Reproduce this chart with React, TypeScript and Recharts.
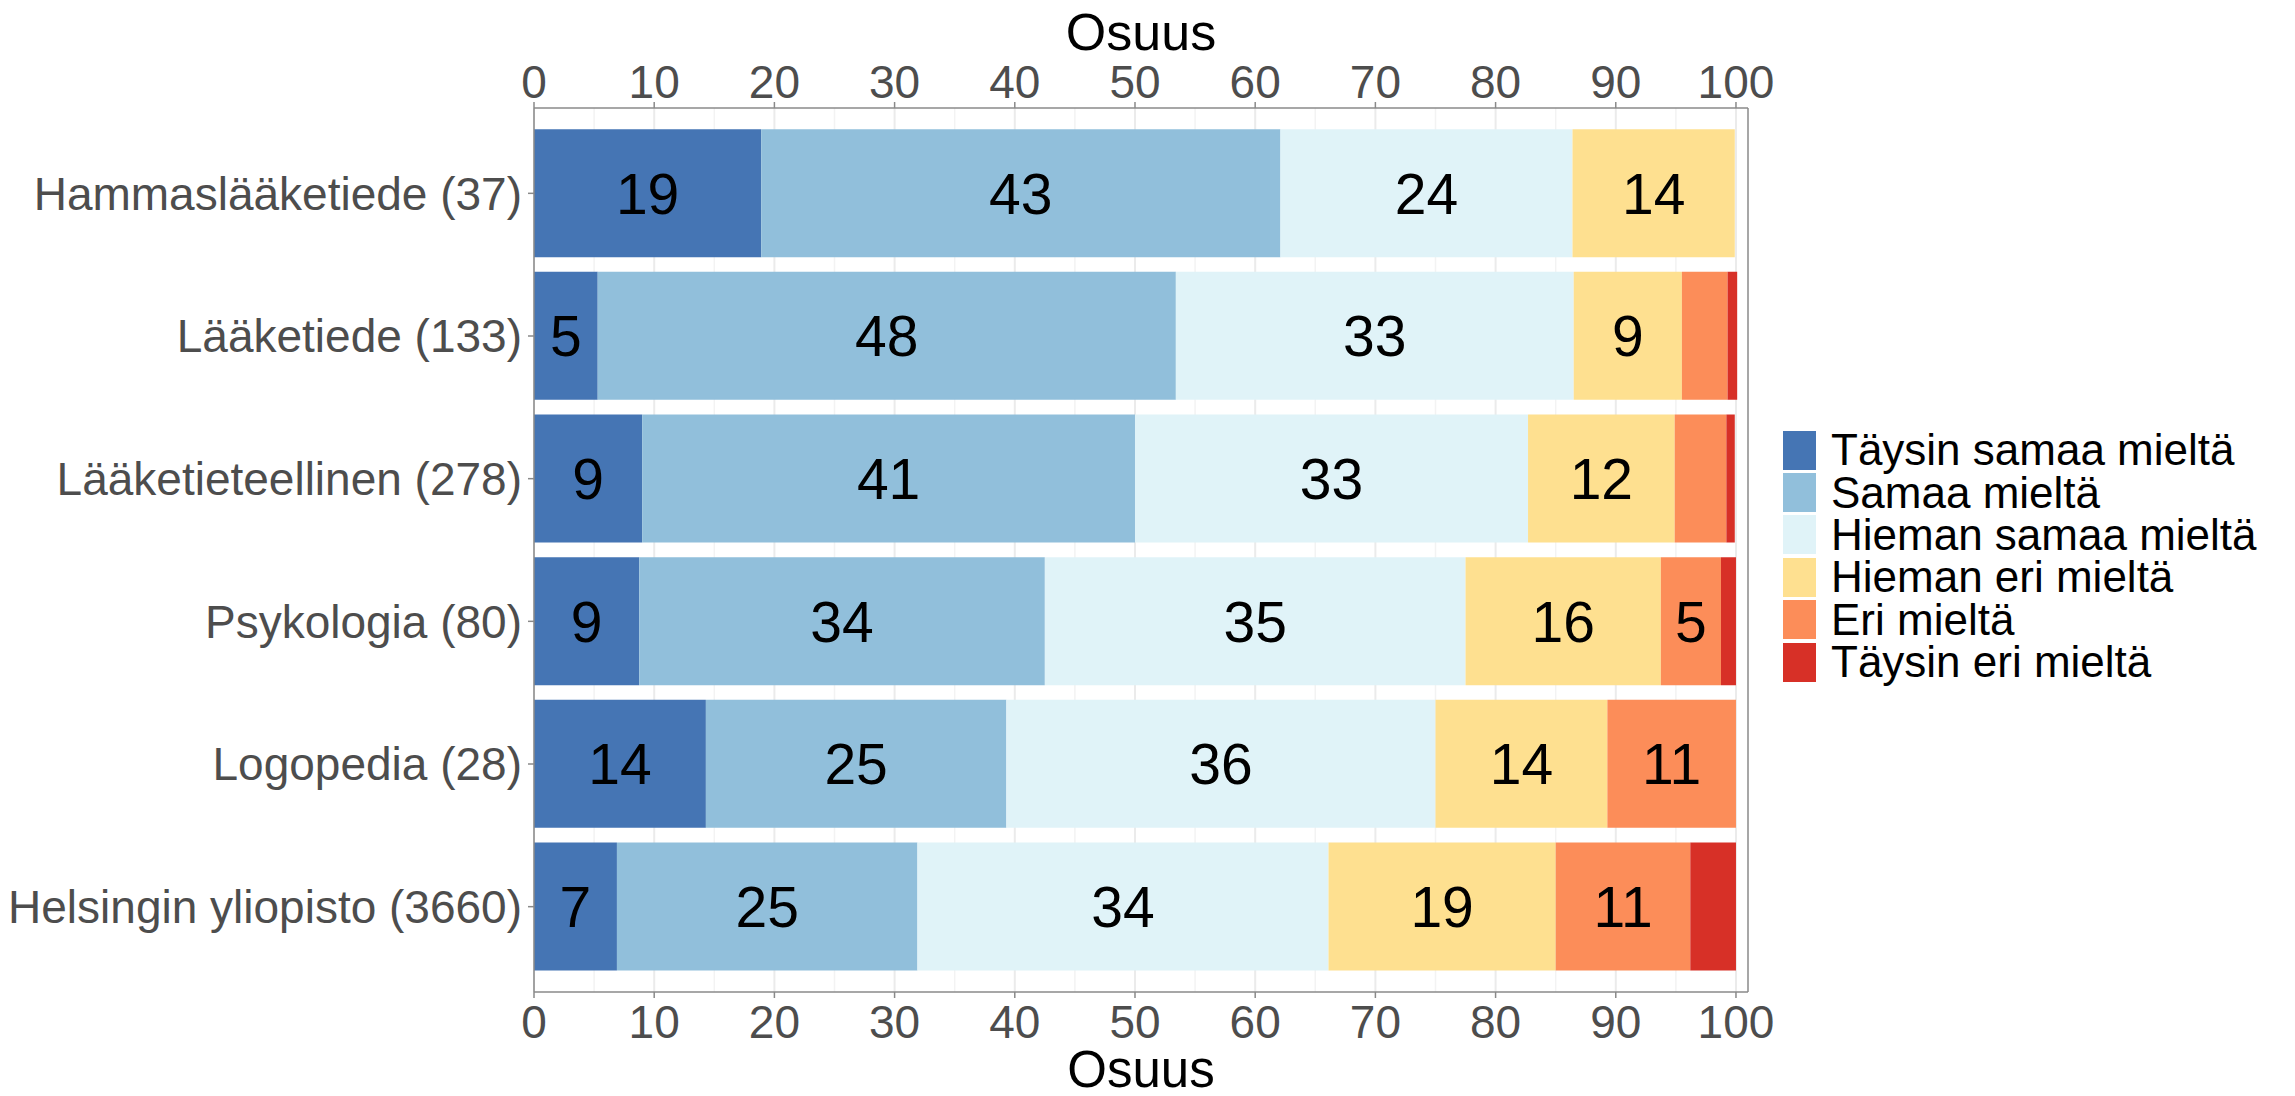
import React from 'react';
import { BarChart, Bar, XAxis, YAxis, CartesianGrid, LabelList, Legend, ReferenceLine, Label } from 'recharts';

const categories = [
  'Hammaslääketiede (37)',
  'Lääketiede (133)',
  'Lääketieteellinen (278)',
  'Psykologia (80)',
  'Logopedia (28)',
  'Helsingin yliopisto (3660)',
];

const seriesNames = [
  'Täysin samaa mieltä',
  'Samaa mieltä',
  'Hieman samaa mieltä',
  'Hieman eri mieltä',
  'Eri mieltä',
  'Täysin eri mieltä',
];

const taysinSamaa = [18.9, 5.3, 9.0, 8.75, 14.3, 6.9];
const samaa = [43.2, 48.1, 41.0, 33.75, 25.0, 25.0];
const hiemanSamaa = [24.3, 33.1, 32.7, 35.0, 35.7, 34.2];
const hiemanEri = [13.5, 9.0, 12.2, 16.25, 14.3, 18.9];
const eri = [0, 3.8, 4.3, 5.0, 10.7, 11.2];
const taysinEri = [0, 0.8, 0.7, 1.25, 0, 3.8];

const colors = ['#4575b4', '#91bfdb', '#e0f3f8', '#fee090', '#fc8d59', '#d73027'];
const xTicks = [0, 10, 20, 30, 40, 50, 60, 70, 80, 90, 100];
const minorTicks = [5, 15, 25, 35, 45, 55, 65, 75, 85, 95];
const axisTitle = 'Osuus';

const keys = ['s1', 's2', 's3', 's4', 's5', 's6'];
const seriesValues = [taysinSamaa, samaa, hiemanSamaa, hiemanEri, eri, taysinEri];

const data = categories.map((c, i) => {
  const row: any = { category: c };
  seriesValues.forEach((vals, j) => {
    row[keys[j]] = vals[i];
  });
  return row;
});

const FONT = '"Liberation Sans", Arial, Helvetica, sans-serif';
const AXIS_GREY = '#8a8a8a';
const TICK_TEXT = '#4d4d4d';

const renderBarLabel = (props: any) => {
  const { x, y, width, height, value } = props;
  if (value == null || value < 4.95) return null;
  return (
    <text
      x={Number(x) + Number(width) / 2}
      y={Number(y) + Number(height) / 2}
      dy="0.36em"
      textAnchor="middle"
      fontSize={57}
      fontFamily={FONT}
      fill="#000"
    >
      {Math.round(value)}
    </text>
  );
};

const renderLegend = () => (
  <div style={{ fontFamily: FONT, fontSize: 44, color: '#000' }}>
    {seriesNames.map((n, i) => (
      <div key={n} style={{ display: 'flex', alignItems: 'center', height: 42.4 }}>
        <div style={{ width: 33, height: 39, background: colors[i], flex: 'none' }} />
        <span style={{ marginLeft: 15, lineHeight: '42px', whiteSpace: 'nowrap' }}>{n}</span>
      </div>
    ))}
  </div>
);

export default function App() {
  return (
    <div style={{ position: 'absolute', left: 0, top: 0, width: 2295, height: 1096, background: '#fff' }}>
      <BarChart
        width={2295}
        height={1096}
        data={data}
        layout="vertical"
        margin={{ top: 0, right: 547, bottom: 0, left: 0 }}
        barCategoryGap="5%"
      >
        <CartesianGrid
          xAxisId="bottom"
          horizontal={false}
          vertical
          verticalValues={minorTicks}
          stroke="#f3f3f3"
          strokeWidth={1.5}
        />
        <CartesianGrid
          xAxisId="bottom"
          horizontal={false}
          vertical
          verticalValues={xTicks}
          stroke="#ebebeb"
          strokeWidth={2}
        />
        <XAxis
          xAxisId="top"
          orientation="top"
          type="number"
          domain={[0, 101]}
          allowDataOverflow
          ticks={xTicks}
          height={108}
          tickSize={6}
          tickMargin={4}
          axisLine={{ stroke: AXIS_GREY, strokeWidth: 1.5 }}
          tickLine={{ stroke: AXIS_GREY, strokeWidth: 1.5 }}
          tick={{ fontSize: 46, fill: TICK_TEXT, fontFamily: FONT }}
          interval={0}
        >
          <Label value={axisTitle} position="insideTop" offset={13} style={{ fontSize: 52, fill: '#000', fontFamily: FONT }} />
        </XAxis>
        <XAxis
          xAxisId="bottom"
          orientation="bottom"
          type="number"
          domain={[0, 101]}
          allowDataOverflow
          ticks={xTicks}
          height={104}
          tickSize={6}
          tickMargin={7}
          axisLine={{ stroke: AXIS_GREY, strokeWidth: 1.5 }}
          tickLine={{ stroke: AXIS_GREY, strokeWidth: 1.5 }}
          tick={{ fontSize: 46, fill: TICK_TEXT, fontFamily: FONT }}
          interval={0}
        >
          <Label value={axisTitle} position="insideBottom" offset={9} style={{ fontSize: 51, fill: '#000', fontFamily: FONT }} />
        </XAxis>
        <YAxis
          type="category"
          dataKey="category"
          width={534}
          padding={{ top: 14, bottom: 14 }}
          tickSize={6}
          tickMargin={6}
          axisLine={{ stroke: AXIS_GREY, strokeWidth: 1.5 }}
          tickLine={{ stroke: AXIS_GREY, strokeWidth: 1.5 }}
          tick={{ fontSize: 46, fill: TICK_TEXT, fontFamily: FONT }}
          interval={0}
        />
        <ReferenceLine xAxisId="bottom" x={101} stroke={AXIS_GREY} strokeWidth={1.5} />
        {keys.map((k, j) => (
          <Bar
            key={k}
            dataKey={k}
            name={seriesNames[j]}
            stackId="a"
            xAxisId="bottom"
            fill={colors[j]}
            isAnimationActive={false}
          >
            <LabelList dataKey={k} content={renderBarLabel} />
          </Bar>
        ))}
        <Legend
          layout="vertical"
          align="center"
          verticalAlign="middle"
          content={renderLegend}
          wrapperStyle={{ left: 1783, top: 429, width: 510, height: 256 }}
        />
      </BarChart>
    </div>
  );
}
